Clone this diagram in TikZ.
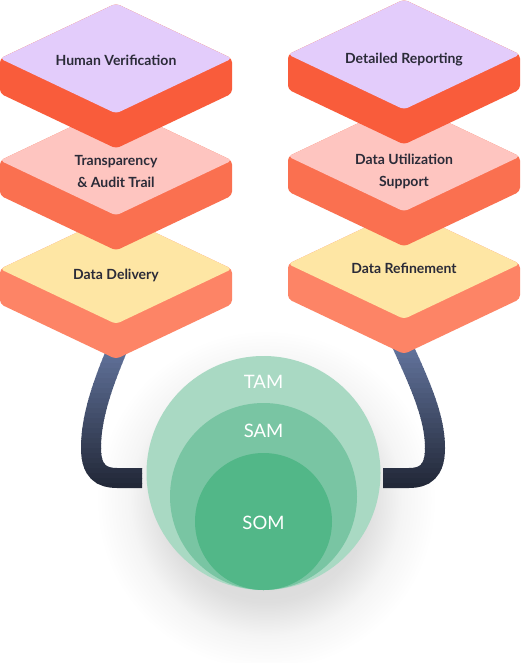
\documentclass[tikz,border=0pt]{standalone}
\usepackage{fontspec}
\setmainfont{Lato}
\definecolor{facepurple}{HTML}{E3CCFB}
\definecolor{sidered}{HTML}{F95C3B}
\definecolor{facepink}{HTML}{FEC5C0}
\definecolor{sideorange}{HTML}{FA7050}
\definecolor{faceyellow}{HTML}{FEE6A4}
\definecolor{sidesalmon}{HTML}{FD8466}
\definecolor{tubetop}{HTML}{6577A1}
\definecolor{tubebot}{HTML}{222838}
\definecolor{tamc}{HTML}{A9D9C3}
\definecolor{samc}{HTML}{79C5A3}
\definecolor{somc}{HTML}{52B788}
\definecolor{labeltext}{HTML}{2B2B38}
\pgfdeclareradialshading{shadowsh}{\pgfpoint{0bp}{0bp}}{color(0bp)=(black!18); color(15bp)=(black!13); color(20bp)=(black!4); color(25bp)=(white); color(50bp)=(white)}
\newcommand{\slabshape}[4]{%
  \fill[#4, rounded corners=4pt] (#1,#2-55) -- (#1+116,#2) -- (#1+116,#2+35) -- (#1,#2+90) -- (#1-116,#2+35) -- (#1-116,#2) -- cycle;
  \fill[#3, rounded corners=4pt] (#1,#2-55) -- (#1+116,#2) -- (#1,#2+55) -- (#1-116,#2) -- cycle;
}
\tikzset{
  tubeline/.style={line width=20pt, line cap=butt, line join=round},
  slabtext/.style={font=\fontsize{14}{22}\selectfont\bfseries, text=labeltext, align=center, inner sep=0pt},
  mktext/.style={font=\fontsize{18.5}{20}\selectfont, text=white, inner sep=0pt},
  mkcircle/.style={circle, inner sep=0pt, outer sep=0pt}
}
\begin{document}
\begin{tikzpicture}[x=1pt, y=-1pt]
\fill[white] (0,0) rectangle (521,663);
\useasboundingbox (0,0) rectangle (521,663);
% shadow
\shade[shading=shadowsh] (266,500) circle (170pt);
% connector ends
\coordinate (lt) at (122,338);
\coordinate (lte) at (142,478);
\coordinate (rt) at (399,338);
\coordinate (rte) at (383,478);
% tubes with vertical gradient
\foreach \i in {0,...,29} {
  \pgfmathsetmacro\p{100*\i/29}
  \colorlet{tubec}{tubebot!\p!tubetop}
  \begin{scope}
    \clip (40,{338+5*\i}) rectangle (480,{343.6+5*\i});
    \draw[tubeline, tubec] (lt) .. controls (104,380) and (91,415) .. (91,448) .. controls (91,472) and (102,478) .. (117,478) -- (lte);
    \draw[tubeline, tubec] (rt) .. controls (418,380) and (435,415) .. (435,448) .. controls (435,472) and (424,478) .. (409,478) -- (rte);
  \end{scope}
}
% circles
\node[mkcircle, fill=tamc, minimum size=234pt] (tam) at (263.5,473) {};
\node[mkcircle, fill=samc, minimum size=187pt] (sam) at (263.5,496.5) {};
\node[mkcircle, fill=somc, minimum size=137pt] (som) at (263.5,521.5) {};
\node[mktext] (tamlbl) at (263.5,382) {TAM};
\node[mktext] (samlbl) at (263.5,431) {SAM};
\node[mktext] (somlbl) at (263.5,523) {SOM};
% left stack
\slabshape{116}{269}{faceyellow}{sidesalmon}
\slabshape{116}{160.5}{facepink}{sideorange}
\slabshape{116}{58.5}{facepurple}{sidered}
% right stack
\slabshape{404}{264}{faceyellow}{sidesalmon}
\slabshape{404}{156.5}{facepink}{sideorange}
\slabshape{404}{54.5}{facepurple}{sidered}
% texts
\node[slabtext] (hv) at (116,60) {Human Verification};
\node[slabtext] (ta) at (116,171) {Transparency\\\& Audit Trail};
\node[slabtext] (dd) at (116,275) {Data Delivery};
\node[slabtext] (dr) at (404,60) {Detailed Reporting};
\node[slabtext] (du) at (404,171) {Data Utilization\\Support};
\node[slabtext] (dref) at (404,268) {Data Refinement};
\end{tikzpicture}
\end{document}
